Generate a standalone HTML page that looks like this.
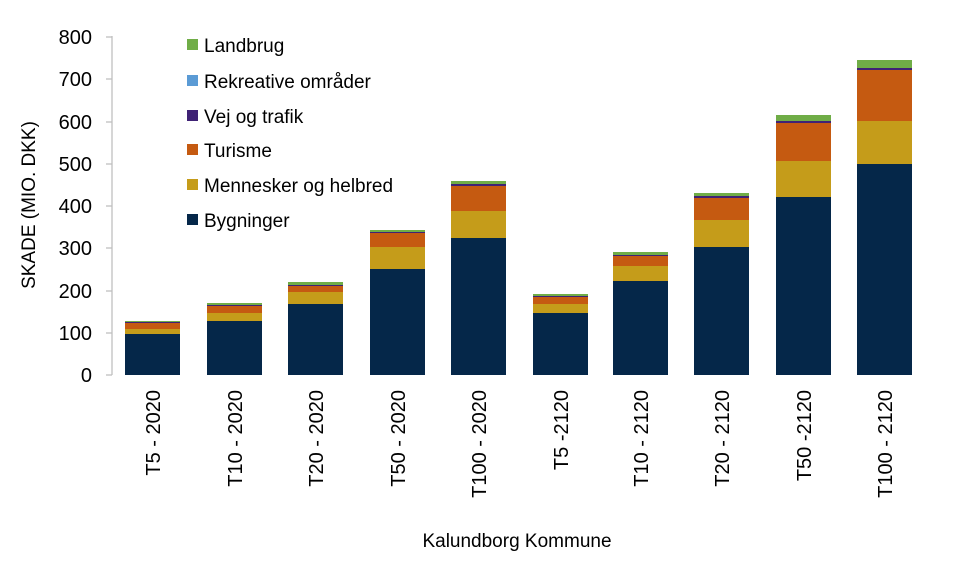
<!DOCTYPE html>
<html><head><meta charset="utf-8"><style>
html,body{margin:0;padding:0;background:#fff;}
svg{display:block;font-family:"Liberation Sans",sans-serif;}
</style></head><body>
<svg width="967" height="586" viewBox="0 0 967 586">
<g stroke="#bfbfbf" stroke-width="1.3">
<line x1="112" y1="36" x2="112" y2="375"/>
<line x1="106" y1="375" x2="112" y2="375"/><line x1="106" y1="333" x2="112" y2="333"/><line x1="106" y1="291" x2="112" y2="291"/><line x1="106" y1="248" x2="112" y2="248"/><line x1="106" y1="206" x2="112" y2="206"/><line x1="106" y1="164" x2="112" y2="164"/><line x1="106" y1="122" x2="112" y2="122"/><line x1="106" y1="79" x2="112" y2="79"/><line x1="106" y1="37" x2="112" y2="37"/>
</g>
<g font-size="20" fill="#000" text-anchor="end">
<text x="92" y="382">0</text><text x="92" y="340">100</text><text x="92" y="298">200</text><text x="92" y="255">300</text><text x="92" y="213">400</text><text x="92" y="171">500</text><text x="92" y="129">600</text><text x="92" y="86">700</text><text x="92" y="44">800</text>
</g>
<text transform="translate(35,205) rotate(-90)" text-anchor="middle" font-size="19">SKADE (MIO. DKK)</text>
<g>
<!-- bar1 -->
<rect x="125" y="334" width="55" height="41" fill="#052749"/><rect x="125" y="329" width="55" height="5" fill="#c59c1a"/><rect x="125" y="323" width="55" height="6" fill="#c55a11"/><rect x="125" y="322" width="55" height="1" fill="#3f2275"/><rect x="125" y="321" width="55" height="1" fill="#70ad47"/>
<!-- bar2 -->
<rect x="207" y="321" width="55" height="54" fill="#052749"/><rect x="207" y="313" width="55" height="8" fill="#c59c1a"/><rect x="207" y="306" width="55" height="7" fill="#c55a11"/><rect x="207" y="305" width="55" height="1" fill="#3f2275"/><rect x="207" y="303" width="55" height="2" fill="#70ad47"/>
<!-- bar3 -->
<rect x="288" y="304" width="55" height="71" fill="#052749"/><rect x="288" y="292" width="55" height="12" fill="#c59c1a"/><rect x="288" y="286" width="55" height="6" fill="#c55a11"/><rect x="288" y="285" width="55" height="1" fill="#3f2275"/><rect x="288" y="282" width="55" height="3" fill="#70ad47"/>
<!-- bar4 -->
<rect x="370" y="269" width="55" height="106" fill="#052749"/><rect x="370" y="247" width="55" height="22" fill="#c59c1a"/><rect x="370" y="233" width="55" height="14" fill="#c55a11"/><rect x="370" y="232" width="55" height="1" fill="#3f2275"/><rect x="370" y="230" width="55" height="2" fill="#70ad47"/>
<!-- bar5 -->
<rect x="451" y="238" width="55" height="137" fill="#052749"/><rect x="451" y="211" width="55" height="27" fill="#c59c1a"/><rect x="451" y="186" width="55" height="25" fill="#c55a11"/><rect x="451" y="184" width="55" height="2" fill="#3f2275"/><rect x="451" y="181" width="55" height="3" fill="#70ad47"/>
<!-- bar6 -->
<rect x="533" y="313" width="55" height="62" fill="#052749"/><rect x="533" y="304" width="55" height="9" fill="#c59c1a"/><rect x="533" y="297" width="55" height="7" fill="#c55a11"/><rect x="533" y="296" width="55" height="1" fill="#3f2275"/><rect x="533" y="294" width="55" height="2" fill="#70ad47"/>
<!-- bar7 -->
<rect x="613" y="281" width="55" height="94" fill="#052749"/><rect x="613" y="266" width="55" height="15" fill="#c59c1a"/><rect x="613" y="256" width="55" height="10" fill="#c55a11"/><rect x="613" y="255" width="55" height="1" fill="#3f2275"/><rect x="613" y="252" width="55" height="3" fill="#70ad47"/>
<!-- bar8 -->
<rect x="694" y="247" width="55" height="128" fill="#052749"/><rect x="694" y="220" width="55" height="27" fill="#c59c1a"/><rect x="694" y="198" width="55" height="22" fill="#c55a11"/><rect x="694" y="196" width="55" height="2" fill="#3f2275"/><rect x="694" y="193" width="55" height="3" fill="#70ad47"/>
<!-- bar9 -->
<rect x="776" y="197" width="55" height="178" fill="#052749"/><rect x="776" y="161" width="55" height="36" fill="#c59c1a"/><rect x="776" y="123" width="55" height="38" fill="#c55a11"/><rect x="776" y="121" width="55" height="2" fill="#3f2275"/><rect x="776" y="115" width="55" height="6" fill="#70ad47"/>
<!-- bar10 -->
<rect x="857" y="164" width="55" height="211" fill="#052749"/><rect x="857" y="121" width="55" height="43" fill="#c59c1a"/><rect x="857" y="70" width="55" height="51" fill="#c55a11"/><rect x="857" y="68" width="55" height="2" fill="#3f2275"/><rect x="857" y="60" width="55" height="8" fill="#70ad47"/>
</g>
<g font-size="19">
<rect x="187" y="39" width="11" height="11" fill="#70ad47"/><text x="204" y="52">Landbrug</text>
<rect x="187" y="75" width="11" height="11" fill="#5b9bd5"/><text x="204" y="88">Rekreative områder</text>
<rect x="187" y="110" width="11" height="11" fill="#3f2275"/><text x="204" y="123">Vej og trafik</text>
<rect x="187" y="144" width="11" height="11" fill="#c55a11"/><text x="204" y="157">Turisme</text>
<rect x="187" y="179" width="11" height="11" fill="#c59c1a"/><text x="204" y="192">Mennesker og helbred</text>
<rect x="187" y="214" width="11" height="11" fill="#052749"/><text x="204" y="227">Bygninger</text>
</g>
<g font-size="20" text-anchor="end">
<text transform="translate(160,390) rotate(-90)">T5 - 2020</text>
<text transform="translate(242,390) rotate(-90)">T10 - 2020</text>
<text transform="translate(323,390) rotate(-90)">T20 - 2020</text>
<text transform="translate(405,390) rotate(-90)">T50 - 2020</text>
<text transform="translate(486,390) rotate(-90)">T100 - 2020</text>
<text transform="translate(568,390) rotate(-90)">T5 -2120</text>
<text transform="translate(648,390) rotate(-90)">T10 - 2120</text>
<text transform="translate(729,390) rotate(-90)">T20 - 2120</text>
<text transform="translate(811,390) rotate(-90)">T50 -2120</text>
<text transform="translate(892,390) rotate(-90)">T100 - 2120</text>
</g>
<text x="517" y="547" text-anchor="middle" font-size="19">Kalundborg Kommune</text>
</svg>
</body></html>
